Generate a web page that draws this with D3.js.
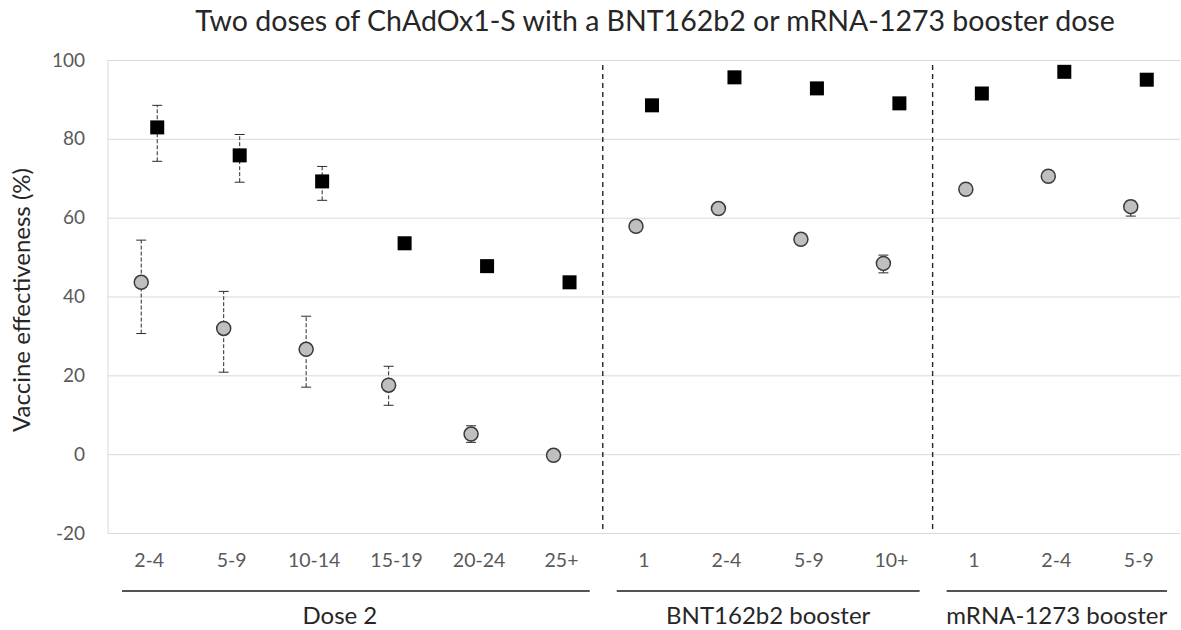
<!DOCTYPE html>
<meta charset="utf-8">
<style>
body { margin: 0; background: #fff; }
svg { font-family: Lato, "Open Sans", sans-serif; }
.grid line { stroke: #d9d9d9; }
.tick-label { fill: #595959; }
</style>
<body>
<svg width="1181" height="630"></svg>
<script src="https://cdn.jsdelivr.net/npm/d3@7"></script>
<script>

// weeks since dose, per group
var categories = ["2-4", "5-9", "10-14", "15-19", "20-24", "25+", "1", "2-4", "5-9", "10+", "1", "2-4", "5-9"];
var groupNames = ["Dose 2", "BNT162b2 booster", "mRNA-1273 booster"];
var groupSizes = [6, 4, 3];

// black squares
var squareVE = [82.9, 75.8, 69.2, 53.5, 47.7, 43.6, 88.5, 95.6, 92.8, 89.0, 91.5, 97.0, 95.0];
var squareLo = [74.3, 69.0, 64.4, 52.0, 46.5, 42.5, 87.5, 95.0, 92.0, 87.5, 90.5, 96.5, 94.0];
var squareHi = [88.5, 81.1, 73.0, 55.0, 48.8, 44.8, 89.5, 96.2, 93.5, 90.3, 92.5, 97.5, 95.8];

// grey circles
var circleVE = [43.6, 31.9, 26.6, 17.5, 5.1, -0.3, 57.8, 62.3, 54.5, 48.4, 67.2, 70.5, 62.8];
var circleLo = [30.6, 20.8, 17.0, 12.4, 3.0, -1.6, 56.8, 61.3, 53.5, 46.0, 66.2, 69.5, 60.4];
var circleHi = [54.3, 41.3, 35.0, 22.3, 7.2, 0.9, 58.8, 63.3, 55.5, 50.5, 68.2, 71.5, 64.2];

var yTicks = [-20, 0, 20, 40, 60, 80, 100];

var svg = d3.select("svg"),
    margin = {top: 60, right: 1, bottom: 97, left: 108},
    width = +svg.attr("width") - margin.left - margin.right,
    height = +svg.attr("height") - margin.top - margin.bottom;

var x = d3.scaleBand().domain(d3.range(categories.length)).range([0, width]),
    y = d3.scaleLinear().domain([-20, 100]).range([height, 0]);

var g = svg.append("g")
    .attr("transform", "translate(" + margin.left + "," + margin.top + ")");

// gridlines
g.append("g")
    .attr("class", "grid")
    .call(d3.axisLeft(y).tickValues(yTicks).tickSize(-width).tickFormat(""))
    .call(function(s) { s.select(".domain").remove(); });

g.append("line")
    .attr("x1", 0).attr("x2", 0)
    .attr("y1", 0).attr("y2", height)
    .attr("stroke", "#d9d9d9");

// y tick labels
g.selectAll(".ylab")
  .data(yTicks)
  .enter().append("text")
    .attr("class", "tick-label")
    .attr("x", -23)
    .attr("y", function(d) { return y(d); })
    .attr("dy", "0.35em")
    .attr("text-anchor", "end")
    .style("font-size", "19px")
    .text(function(d) { return d; });

// x tick labels
g.selectAll(".xlab")
  .data(categories)
  .enter().append("text")
    .attr("class", "tick-label")
    .attr("x", function(d, i) { return x(i) + x.bandwidth() / 2; })
    .attr("y", height + 34)
    .attr("text-anchor", "middle")
    .style("font-size", "19.5px")
    .text(function(d) { return d; });

// group separators, underlines and labels
var starts = [], acc = 0;
groupSizes.forEach(function(n) { starts.push(acc); acc += n; });

g.selectAll(".sep")
  .data(starts.slice(1))
  .enter().append("line")
    .attr("x1", function(d) { return x(d); })
    .attr("x2", function(d) { return x(d); })
    .attr("y1", 5)
    .attr("y2", height)
    .attr("stroke", "#262626")
    .attr("stroke-width", 1.4)
    .attr("stroke-dasharray", "5,4");

var groups = groupNames.map(function(name, i) {
  var x0 = x(starts[i]), x1 = x(starts[i] + groupSizes[i] - 1) + x.bandwidth();
  return {name: name, x0: x0 + 14, x1: x1 - 13};
});

g.selectAll(".gline")
  .data(groups)
  .enter().append("line")
    .attr("x1", function(d) { return d.x0; })
    .attr("x2", function(d) { return d.x1; })
    .attr("y1", height + 58)
    .attr("y2", height + 58)
    .attr("stroke", "#1a1a1a")
    .attr("stroke-width", 1.5);

g.selectAll(".glabel")
  .data(groups)
  .enter().append("text")
    .attr("x", function(d, i) { return (d.x0 + d.x1) / 2 - (i === 0 ? 16 : 0); })
    .attr("y", height + 91)
    .attr("text-anchor", "middle")
    .attr("fill", "#262626")
    .style("font-size", "24px")
    .text(function(d) { return d.name; });

// error bars and markers
function series(ve, lo, hi, offset) {
  return ve.map(function(v, i) {
    return {cx: x(i) + x.bandwidth() / 2 + offset, v: v, lo: lo[i], hi: hi[i]};
  });
}
var circles = series(circleVE, circleLo, circleHi, -8),
    squares = series(squareVE, squareLo, squareHi, 8);

function errorBars(data) {
  var eb = g.append("g").selectAll("g")
    .data(data)
    .enter().append("g")
      .attr("stroke", "#2a2a2a")
      .attr("stroke-width", 1);
  eb.append("line")
      .attr("x1", function(d) { return d.cx; })
      .attr("x2", function(d) { return d.cx; })
      .attr("y1", function(d) { return y(d.lo); })
      .attr("y2", function(d) { return y(d.hi); })
      .attr("stroke-dasharray", "4,2");
  [function(d) { return d.lo; }, function(d) { return d.hi; }].forEach(function(f) {
    eb.append("line")
        .attr("x1", function(d) { return d.cx - 5; })
        .attr("x2", function(d) { return d.cx + 5; })
        .attr("y1", function(d) { return y(f(d)); })
        .attr("y2", function(d) { return y(f(d)); });
  });
}
errorBars(circles);
errorBars(squares);

g.append("g").selectAll("circle")
  .data(circles)
  .enter().append("circle")
    .attr("cx", function(d) { return d.cx; })
    .attr("cy", function(d) { return y(d.v); })
    .attr("r", 7)
    .attr("fill", "#bfbfbf")
    .attr("stroke", "#3a3a3a")
    .attr("stroke-width", 1.5);

g.append("g").selectAll("rect")
  .data(squares)
  .enter().append("rect")
    .attr("x", function(d) { return d.cx - 7; })
    .attr("y", function(d) { return y(d.v) - 7; })
    .attr("width", 14)
    .attr("height", 14)
    .attr("fill", "#000");

// y axis title
svg.append("text")
    .attr("transform", "translate(30,300) rotate(-90)")
    .attr("text-anchor", "middle")
    .attr("fill", "#262626")
    .style("font-size", "24px")
    .text("Vaccine effectiveness (%)");

// chart title
svg.append("text")
    .attr("x", 655)
    .attr("y", 31)
    .attr("text-anchor", "middle")
    .attr("fill", "#262626")
    .style("font-size", "28.5px")
    .text("Two doses of ChAdOx1-S with a BNT162b2 or mRNA-1273 booster dose");

</script>
</body>
